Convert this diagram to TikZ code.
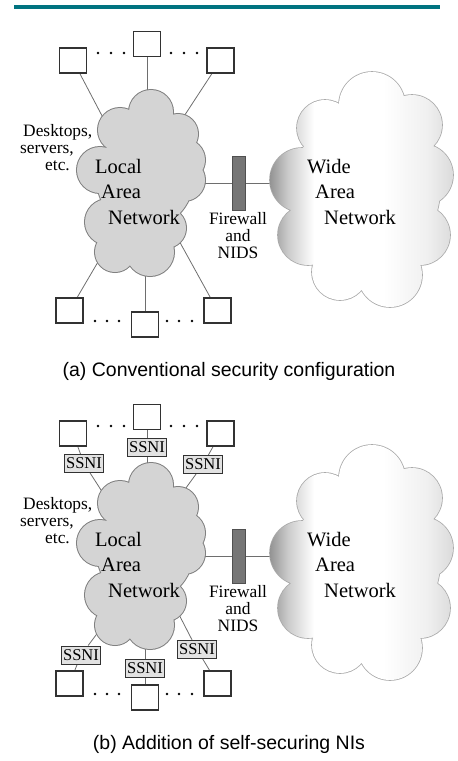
\documentclass[tikz,border=0pt]{standalone}
\usepackage{fontspec}
\setmainfont{Liberation Serif}
\setsansfont{Liberation Sans}
\pgfdeclarelayer{bg}
\pgfsetlayers{bg,main}
\definecolor{barteal}{RGB}{0,115,128}
\definecolor{lanfill}{RGB}{212,212,212}
\definecolor{lanedge}{RGB}{128,128,128}
\definecolor{fwfill}{RGB}{118,118,118}
\definecolor{fwedge}{RGB}{80,80,80}
\definecolor{boxedge}{RGB}{50,50,50}
\definecolor{conncol}{RGB}{110,110,110}
\definecolor{ssnifill}{RGB}{226,226,226}
\definecolor{wanedge}{RGB}{170,170,170}
\pgfdeclarehorizontalshading{wanshade}{100bp}{color(0bp)=(black!42); color(25bp)=(black!42);
  color(30bp)=(black!20); color(37bp)=(white); color(56bp)=(white); color(68bp)=(black!6);
  color(75bp)=(black!14); color(100bp)=(black!14)}
\tikzset{
 hostbox/.style={draw=boxedge, fill=white, line width=1.1pt, minimum width=27pt, minimum height=25pt, inner sep=0pt},
 ssnibox/.style={draw=boxedge, fill=ssnifill, line width=0.9pt, minimum width=39pt, minimum height=18pt, inner sep=1pt, font=\fontsize{16.5}{18}\selectfont},
 fwbox/.style={draw=fwedge, fill=fwfill, line width=0.8pt, minimum width=13pt, minimum height=54pt, inner sep=0pt},
 conn/.style={draw=conncol, line width=0.8pt},
 cloudlbl/.style={inner sep=0pt, anchor=base west, align=left, font=\fontsize{20.5}{25.5}\selectfont},
 smalllbl/.style={inner sep=0pt, font=\fontsize{17.4}{17}\selectfont},
 capt/.style={inner sep=0pt, anchor=base, font=\sffamily\fontsize{19.5}{22}\selectfont},
}
\newcommand\lanshape[1]{\path[#1] (151,112) circle (22pt) (120,130) circle (22pt)
  (100,170) circle (23pt) (108,222) circle (23pt) (115,252) circle (20pt)
  (150,252) circle (24pt) (166,228) circle (20pt) (184,160) circle (21pt)
  (184,180) circle (21pt) (178,134) circle (20pt) (145,180) circle (48pt);}
\newcommand\lancore[1]{\path[#1] (151,112) -- (178,134) -- (184,160) -- (184,180) -- (166,228)
  -- (150,252) -- (115,252) -- (108,222) -- (100,170) -- (120,130) -- cycle;}
\newcommand\wanshape[1]{\path[#1] (372,105) circle (33pt) (325,128) circle (28pt)
  (302,180) circle (32pt) (308,235) circle (30pt) (340,272) circle (28pt)
  (390,275) circle (32pt) (420,235) circle (30pt) (422,175) circle (31pt)
  (412,125) circle (30pt) (365,190) circle (75pt)
  (340,248) circle (25pt) (395,250) circle (25pt) (400,140) circle (25pt) (330,150) circle (25pt);}
\newcommand\hosts[1]{%
 \node[hostbox] (#1-h1) at (73,60.5) {};
 \node[hostbox] (#1-h2) at (147,44) {};
 \node[hostbox] (#1-h3) at (220.5,60.5) {};
 \node[hostbox] (#1-h4) at (69.5,310.5) {};
 \node[hostbox] (#1-h5) at (145,324.5) {};
 \node[hostbox] (#1-h6) at (217.5,310.5) {};
 \coordinate (#1-t1) at (110,131);
 \coordinate (#1-t2) at (147,100);
 \coordinate (#1-t3) at (175,130);
 \coordinate (#1-b1) at (105,250);
 \coordinate (#1-b2) at (145,265);
 \coordinate (#1-b3) at (172,228);
 \foreach \dx in {98,111,124,171,184,197} {\fill (\dx,53) circle (1.3pt);}
 \foreach \dx in {95,107,119,167,179,192} {\fill (\dx,321) circle (1.3pt);}
}
\newcommand\clouds[1]{%
 \coordinate (#1-lanr) at (200,183);
 \coordinate (#1-wanl) at (276,183);
 \node[fwbox] (#1-fw) at (238.5,183) {};
 \begin{pgfonlayer}{bg}\draw[conn] (#1-lanr) -- (#1-fw) -- (#1-wanl);\end{pgfonlayer}
 \lanshape{draw=lanedge, line width=2pt}
 \lanshape{fill=lanfill}
 \lancore{fill=lanfill}
 \wanshape{draw=wanedge, line width=1.6pt}
 \wanshape{shading=wanshade}
 \node[cloudlbl] (#1-lanlbl) at (95,224) {Local\\\hspace*{6pt}Area\\\hspace*{13pt}Network};
 \node[cloudlbl] (#1-wanlbl) at (307,224) {Wide\\\hspace*{8pt}Area\\\hspace*{17pt}Network};
 \node[smalllbl, anchor=base west, align=left] (#1-desk) at (23,170) {Desktops,\\\hspace*{-3pt}servers,\\\hspace*{22pt}etc.};
 \node[smalllbl, anchor=base, align=center] (#1-fwlbl) at (238,258) {Firewall\\and\\NIDS};
}
\begin{document}
\begin{tikzpicture}[x=1pt,y=-1pt]
\useasboundingbox (0,0) rectangle (458,761);
\draw[barteal, line width=4pt] (14,7) -- (440,7);
% panel (a)
\hosts{a}
\begin{pgfonlayer}{bg}
 \draw[conn] (a-h1) -- (a-t1);
 \draw[conn] (a-h2) -- (a-t2);
 \draw[conn] (a-h3) -- (a-t3);
 \draw[conn] (a-h4) -- (a-b1);
 \draw[conn] (a-h5) -- (a-b2);
 \draw[conn] (a-h6) -- (a-b3);
\end{pgfonlayer}
\clouds{a}
\node[capt] (capa) at (229,376) {(a) Conventional security configuration};
% panel (b)
\begin{scope}[yshift=-373pt]
\hosts{b}
\node[ssnibox] (b-s1) at (84,90.5) {SSNI};
\node[ssnibox] (b-s2) at (147,74.5) {SSNI};
\node[ssnibox] (b-s3) at (203,91.5) {SSNI};
\node[ssnibox] (b-s4) at (81,282) {SSNI};
\node[ssnibox] (b-s5) at (145,295) {SSNI};
\node[ssnibox] (b-s6) at (197,276.5) {SSNI};
\begin{pgfonlayer}{bg}
 \draw[conn] (b-h1) -- (b-s1) -- (b-t1);
 \draw[conn] (b-h2) -- (b-s2) -- (b-t2);
 \draw[conn] (b-h3) -- (b-s3) -- (b-t3);
 \draw[conn] (b-h4) -- (b-s4) -- (b-b1);
 \draw[conn] (b-h5) -- (b-s5) -- (b-b2);
 \draw[conn] (b-h6) -- (b-s6) -- (b-b3);
\end{pgfonlayer}
\clouds{b}
\end{scope}
\node[capt] (capb) at (229,749) {(b) Addition of self-securing NIs};
\end{tikzpicture}
\end{document}
